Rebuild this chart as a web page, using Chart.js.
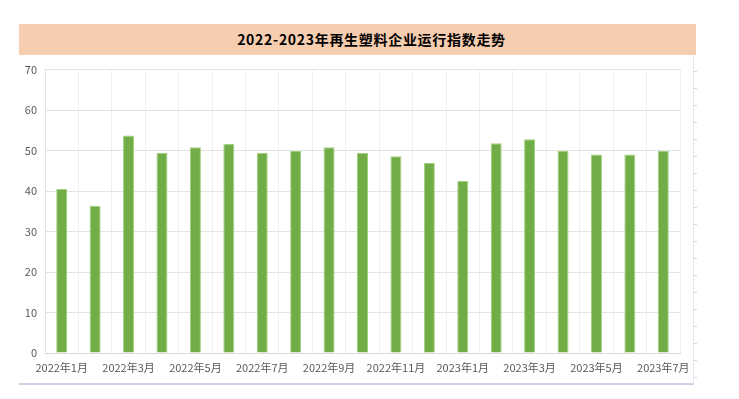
<!DOCTYPE html>
<html>
<head>
<meta charset="utf-8">
<script src="https://cdn.jsdelivr.net/npm/chart.js@4.4.0/dist/chart.umd.min.js"></script>
<style>
  body { margin: 0; background: #fff; font-family: 'Noto Sans CJK SC', sans-serif; }
  #band {
    position: absolute; left: 19px; top: 24px; width: 677px; height: 31px;
    background: #F7CDB0; color: #000; font-weight: bold; font-size: 14px;
    letter-spacing: 0.7px; line-height: 31px; text-align: center; box-sizing: border-box; padding-left: 28px;
  }
  #frame {
    position: absolute; left: 19px; top: 55px; width: 674px; height: 328px;
    border-right: 1px solid #E4E5EE; border-bottom: 2px solid #CDD1E3;
  }
  #ticks {
    position: absolute; left: 694px; top: 55px; width: 3px; height: 328px;
    background: repeating-linear-gradient(to bottom, transparent 0 16px, #D5D8E6 16px 17px);
  }
  #wrap { position: absolute; left: 0; top: 0; width: 674px; height: 328px; }
</style>
</head>
<body>
<div id="band">2022-2023年再生塑料企业运行指数走势</div>
<div id="frame"><div id="wrap"><canvas id="indexChart"></canvas></div></div>
<div id="ticks"></div>
<script>
const MONTHS = ['2022年1月', '2022年2月', '2022年3月', '2022年4月', '2022年5月', '2022年6月', '2022年7月',
  '2022年8月', '2022年9月', '2022年10月', '2022年11月', '2022年12月', '2023年1月', '2023年2月',
  '2023年3月', '2023年4月', '2023年5月', '2023年6月', '2023年7月'];
const INDEX_VALUES = [40.5, 36.4, 53.7, 49.4, 50.8, 51.6, 49.4, 49.9, 50.8, 49.4, 48.6, 46.9, 42.5, 51.8, 52.8, 49.9, 49.0, 49.0, 49.9];
const Y_MIN = 0;
const Y_MAX = 70;
const Y_STEP = 10;

const ctx = document.getElementById('indexChart').getContext('2d');
const indexChart = new Chart(ctx, {
  type: 'bar',
  data: {
    labels: MONTHS,
    datasets: [{
      data: INDEX_VALUES,
      backgroundColor: '#70AD47',
      borderColor: '#A3D07F',
      borderWidth: { top: 1, left: 1, right: 1, bottom: 0 },
      borderSkipped: 'bottom',
      barPercentage: 0.33,
      categoryPercentage: 1.0
    }]
  },
  options: {
    responsive: true,
    maintainAspectRatio: false,
    animation: false,
    layout: { padding: { left: 0, top: 13, right: 13, bottom: 0 } },
    plugins: {
      legend: { display: false },
      tooltip: { enabled: false }
    },
    scales: {
      x: {
        // keep the plot edges fixed, the labels may hang over
        afterFit: (scale) => { scale.height = 30; scale.paddingLeft = 0; scale.paddingRight = 0; },
        grid: { color: '#F0F0F0', offset: true, drawTicks: false },
        border: { color: '#D9D9D9' },
        ticks: {
          autoSkip: false,
          maxRotation: 0,
          padding: 8,
          color: '#595959',
          font: { size: 11, family: "'Noto Sans CJK SC', sans-serif" },
          callback: (value, index) => (index % 2 === 0 ? MONTHS[index] : '')
        }
      },
      y: {
        min: Y_MIN,
        max: Y_MAX,
        afterFit: (scale) => { scale.width = 26; },
        grid: { color: '#E3E3E3', drawTicks: false },
        border: { color: '#E3E3E3' },
        ticks: {
          stepSize: Y_STEP,
          padding: 8,
          color: '#595959',
          font: { size: 11, family: "'Noto Sans CJK SC', sans-serif" }
        }
      }
    }
  }
});
</script>
</body>
</html>
